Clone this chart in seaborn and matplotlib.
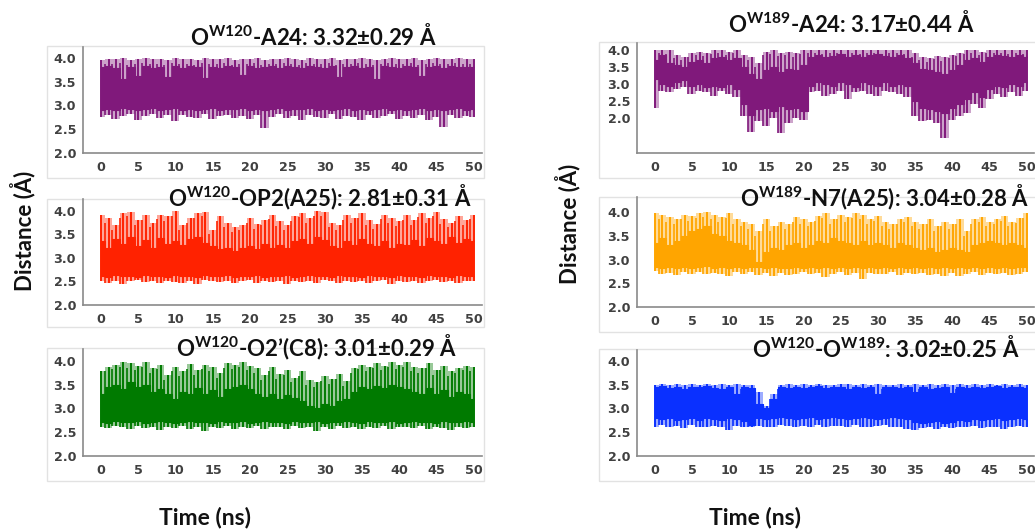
import numpy as np
import matplotlib
matplotlib.use("Agg")
import matplotlib.pyplot as plt
import matplotlib.patches as mpatches
import seaborn as sns

# time axis (ns), one sample of the read-off envelope per ns
time_ns = np.arange(0, 51)

# envelopes: spike peak, top of dense band, bottom of dense band, spike trough
w120_a24_peak = [3.95,3.98,3.97,3.99,3.96,3.98,3.99,3.97,3.98,3.96,3.99,3.97,3.98,3.95,3.99,3.98,3.97,3.99,3.96,3.98,3.97,3.99,3.95,3.98,3.97,3.99,3.98,3.96,3.99,3.97,3.98,3.99,3.96,3.98,3.97,3.99,3.98,3.96,3.97,3.99,3.98,3.97,3.99,3.96,3.98,3.99,3.97,3.98,3.99,3.97,3.98]
w120_a24_dip = [3.80,3.82,3.78,3.55,3.80,3.62,3.83,3.79,3.81,3.60,3.84,3.78,3.82,3.80,3.58,3.81,3.79,3.83,3.80,3.65,3.82,3.78,3.81,3.84,3.79,3.82,3.80,3.78,3.83,3.81,3.79,3.82,3.60,3.80,3.84,3.78,3.81,3.56,3.83,3.80,3.79,3.82,3.80,3.62,3.81,3.83,3.79,3.82,3.80,3.81,3.80]
w120_a24_floor = [2.90,2.93,2.91,2.94,2.92,2.90,2.93,2.95,2.91,2.92,2.94,2.90,2.93,2.91,2.92,2.95,2.90,2.93,2.92,2.94,2.91,2.93,2.90,2.92,2.94,2.91,2.93,2.92,2.95,2.90,2.93,2.91,2.92,2.94,2.90,2.93,2.91,2.92,2.94,2.90,2.93,2.91,2.92,2.95,2.90,2.93,2.91,2.92,2.94,2.91,2.93]
w120_a24_low = [2.75,2.80,2.72,2.78,2.82,2.70,2.77,2.81,2.74,2.79,2.68,2.80,2.76,2.73,2.82,2.71,2.78,2.80,2.74,2.77,2.72,2.79,2.52,2.75,2.81,2.73,2.78,2.70,2.80,2.76,2.74,2.82,2.71,2.78,2.75,2.69,2.80,2.73,2.77,2.81,2.72,2.78,2.74,2.79,2.70,2.76,2.54,2.80,2.73,2.78,2.75]

w120_op2_peak = [3.90,3.85,3.70,3.95,3.98,3.80,3.90,3.75,3.92,3.88,3.99,3.70,3.85,3.95,3.98,3.60,3.88,3.75,3.65,3.70,3.85,3.72,3.80,3.92,3.78,3.70,3.88,3.96,3.85,3.99,3.98,3.75,3.70,3.90,3.85,3.95,3.80,3.72,3.92,3.85,3.78,3.90,3.80,3.96,3.85,3.98,3.82,3.75,3.88,3.80,3.92]
w120_op2_dip = [3.35,3.20,3.40,3.30,3.45,3.25,3.38,3.22,3.42,3.30,3.35,3.28,3.40,3.45,3.32,3.25,3.18,3.22,3.15,3.20,3.25,3.18,3.30,3.22,3.28,3.20,3.35,3.40,3.30,3.45,3.38,3.25,3.20,3.35,3.28,3.40,3.30,3.25,3.35,3.22,3.30,3.28,3.38,3.25,3.42,3.35,3.30,3.45,3.32,3.40,3.35]
w120_op2_floor = [2.62,2.60,2.63,2.61,2.62,2.60,2.64,2.61,2.62,2.60,2.63,2.61,2.62,2.60,2.64,2.62,2.61,2.63,2.60,2.62,2.61,2.63,2.60,2.62,2.61,2.64,2.60,2.62,2.63,2.61,2.62,2.60,2.63,2.61,2.62,2.60,2.64,2.61,2.62,2.60,2.63,2.61,2.62,2.60,2.63,2.61,2.62,2.60,2.63,2.61,2.62]
w120_op2_low = [2.50,2.47,2.52,2.45,2.50,2.53,2.48,2.51,2.46,2.52,2.49,2.47,2.51,2.45,2.53,2.50,2.48,2.52,2.47,2.50,2.53,2.46,2.51,2.48,2.50,2.45,2.52,2.49,2.51,2.47,2.53,2.50,2.46,2.52,2.49,2.51,2.47,2.50,2.53,2.45,2.51,2.48,2.52,2.46,2.50,2.53,2.48,2.51,2.47,2.52,2.50]

w120_o2_peak = [3.78,3.88,3.92,3.98,3.95,3.90,3.97,3.85,3.92,3.70,3.88,3.78,3.93,3.80,3.92,3.88,3.75,3.95,3.92,3.98,3.90,3.85,3.70,3.88,3.72,3.80,3.65,3.78,3.60,3.55,3.68,3.62,3.72,3.58,3.85,3.92,3.88,3.95,3.90,3.98,3.92,3.97,3.88,3.85,3.95,3.80,3.90,3.78,3.85,3.90,3.88]
w120_o2_dip = [3.30,3.45,3.50,3.40,3.55,3.45,3.50,3.35,3.40,3.30,3.20,3.35,3.30,3.42,3.30,3.38,3.25,3.40,3.45,3.50,3.40,3.30,3.25,3.30,3.20,3.28,3.22,3.15,3.05,3.00,3.10,3.05,3.15,3.20,3.35,3.45,3.40,3.48,3.42,3.50,3.45,3.40,3.35,3.30,3.42,3.30,3.38,3.25,3.35,3.30,3.20]
w120_o2_floor = [2.72,2.70,2.73,2.71,2.72,2.74,2.70,2.72,2.73,2.71,2.70,2.72,2.74,2.71,2.72,2.70,2.73,2.72,2.71,2.74,2.70,2.72,2.73,2.71,2.72,2.70,2.74,2.72,2.71,2.73,2.70,2.72,2.71,2.74,2.72,2.70,2.73,2.71,2.72,2.74,2.70,2.72,2.73,2.71,2.72,2.70,2.74,2.72,2.71,2.73,2.72]
w120_o2_low = [2.62,2.58,2.64,2.60,2.56,2.63,2.59,2.61,2.55,2.62,2.58,2.64,2.57,2.60,2.53,2.62,2.58,2.63,2.56,2.61,2.59,2.64,2.57,2.60,2.62,2.56,2.63,2.58,2.61,2.52,2.60,2.57,2.63,2.59,2.62,2.56,2.61,2.58,2.64,2.57,2.60,2.62,2.58,2.63,2.56,2.61,2.59,2.55,2.62,2.58,2.61]

w189_a24_peak = [4.00,4.00,3.98,3.85,3.80,3.90,3.95,3.92,3.98,4.00,3.95,4.00,3.85,3.80,3.60,3.95,3.98,3.92,3.95,3.90,3.98,4.00,4.00,3.98,4.00,4.00,3.99,4.00,3.98,4.00,4.00,3.98,4.00,4.00,3.98,3.90,3.80,3.75,3.82,3.78,3.85,3.92,3.98,4.00,3.95,4.00,4.00,4.00,3.98,4.00,3.98]
w189_a24_dip = [3.70,3.85,3.60,3.55,3.50,3.65,3.70,3.60,3.75,3.80,3.70,3.75,3.50,3.30,3.15,3.40,3.50,3.35,3.45,3.40,3.55,3.80,3.85,3.80,3.82,3.88,3.80,3.85,3.78,3.85,3.88,3.82,3.80,3.85,3.75,3.60,3.45,3.40,3.35,3.30,3.40,3.55,3.70,3.75,3.65,3.80,3.85,3.82,3.80,3.85,3.80]
w189_a24_floor = [3.15,3.00,2.95,3.05,3.10,2.95,3.00,2.90,2.95,2.90,3.00,2.85,2.40,2.10,2.25,2.30,2.20,2.35,2.25,2.30,2.20,2.95,3.05,3.00,2.95,3.05,3.00,2.90,3.05,3.00,2.95,3.05,2.95,3.00,2.95,2.50,2.30,2.25,2.20,2.15,2.30,2.40,2.55,2.75,2.60,2.85,2.95,2.90,3.00,2.95,3.05]
w189_a24_low = [2.30,2.80,2.75,2.85,2.90,2.70,2.80,2.75,2.65,2.80,2.70,2.60,2.05,1.60,1.90,1.75,2.00,1.55,1.85,2.00,1.95,2.75,2.80,2.65,2.70,2.80,2.55,2.75,2.80,2.70,2.65,2.80,2.75,2.70,2.60,2.05,1.90,1.95,1.85,1.40,1.95,2.05,2.15,2.40,2.30,2.55,2.70,2.60,2.75,2.65,2.80]

w189_n7_peak = [3.98,3.95,3.90,3.85,3.95,3.92,3.98,4.00,3.95,3.90,3.98,3.85,3.80,3.75,3.60,3.85,3.70,3.80,3.75,3.90,3.85,3.80,3.92,3.98,3.85,3.95,3.90,3.98,3.95,3.85,3.92,3.80,3.75,3.85,3.90,3.80,3.75,3.85,3.70,3.80,3.75,3.85,3.60,3.85,3.90,3.80,3.85,3.92,3.80,3.88,3.98]
w189_n7_dip = [3.35,3.45,3.30,3.40,3.50,3.60,3.65,3.70,3.55,3.50,3.40,3.35,3.30,3.20,2.95,3.15,3.25,3.20,3.30,3.35,3.25,3.30,3.40,3.35,3.45,3.40,3.35,3.30,3.40,3.30,3.35,3.30,3.25,3.35,3.30,3.25,3.20,3.25,3.15,3.20,3.25,3.20,3.15,3.30,3.35,3.40,3.35,3.30,3.35,3.30,3.25]
w189_n7_floor = [2.85,2.82,2.84,2.83,2.85,2.82,2.84,2.86,2.83,2.85,2.82,2.84,2.83,2.85,2.85,2.82,2.84,2.83,2.82,2.84,2.83,2.85,2.82,2.84,2.83,2.85,2.82,2.84,2.83,2.85,2.82,2.84,2.83,2.85,2.82,2.84,2.83,2.85,2.82,2.84,2.83,2.85,2.82,2.84,2.83,2.85,2.82,2.84,2.83,2.85,2.84]
w189_n7_low = [2.75,2.70,2.72,2.68,2.73,2.70,2.74,2.69,2.72,2.70,2.66,2.73,2.70,2.74,2.68,2.71,2.66,2.72,2.68,2.70,2.74,2.69,2.72,2.63,2.70,2.73,2.68,2.71,2.60,2.72,2.69,2.70,2.73,2.67,2.71,2.69,2.72,2.68,2.70,2.66,2.72,2.65,2.70,2.73,2.68,2.71,2.69,2.72,2.67,2.70,2.73]

w120_w189_peak = [3.50,3.52,3.50,3.51,3.50,3.52,3.49,3.51,3.50,3.52,3.50,3.51,3.50,3.49,3.35,3.05,3.30,3.50,3.51,3.50,3.52,3.50,3.51,3.49,3.50,3.52,3.51,3.50,3.52,3.50,3.51,3.50,3.49,3.52,3.50,3.51,3.50,3.52,3.50,3.51,3.50,3.52,3.49,3.51,3.50,3.52,3.50,3.51,3.50,3.52,3.50]
w120_w189_dip = [3.45,3.47,3.44,3.46,3.40,3.46,3.45,3.47,3.44,3.42,3.45,3.30,3.46,3.44,3.10,3.00,3.20,3.45,3.44,3.46,3.43,3.45,3.47,3.44,3.46,3.45,3.42,3.46,3.44,3.45,3.30,3.46,3.45,3.44,3.46,3.35,3.45,3.40,3.44,3.46,3.32,3.45,3.44,3.46,3.43,3.45,3.47,3.44,3.46,3.45,3.44]
w120_w189_floor = [2.80,2.78,2.80,2.75,2.78,2.80,2.76,2.80,2.78,2.76,2.80,2.78,2.74,2.65,2.80,2.78,2.80,2.82,2.80,2.78,2.80,2.82,2.78,2.80,2.82,2.80,2.78,2.80,2.82,2.80,2.78,2.80,2.82,2.80,2.78,2.72,2.70,2.72,2.74,2.70,2.72,2.75,2.74,2.78,2.76,2.78,2.80,2.76,2.78,2.80,2.78]
w120_w189_low = [2.62,2.65,2.60,2.63,2.58,2.65,2.62,2.60,2.64,2.61,2.55,2.63,2.60,2.62,2.64,2.60,2.62,2.66,2.63,2.60,2.64,2.62,2.65,2.60,2.63,2.64,2.61,2.65,2.62,2.60,2.63,2.65,2.60,2.62,2.56,2.55,2.58,2.60,2.57,2.60,2.58,2.62,2.60,2.63,2.59,2.62,2.60,2.56,2.62,2.64,2.61]

titles = [
    r"O$^{\mathbf{W120}}$-A24: 3.32±0.29 Å",
    r"O$^{\mathbf{W120}}$-OP2(A25): 2.81±0.31 Å",
    r"O$^{\mathbf{W120}}$-O2’(C8): 3.01±0.29 Å",
    r"O$^{\mathbf{W189}}$-A24: 3.17±0.44 Å",
    r"O$^{\mathbf{W189}}$-N7(A25): 3.04±0.28 Å",
    r"O$^{\mathbf{W120}}$-O$^{\mathbf{W189}}$: 3.02±0.25 Å",
]

sns.set_style("white")
plt.rcParams["font.family"] = ["Lato", "DejaVu Sans"]
plt.rcParams["mathtext.fontset"] = "custom"
plt.rcParams["mathtext.rm"] = "Lato"
plt.rcParams["mathtext.bf"] = "Lato:bold"

W, H = 1035, 531
fig = plt.figure(figsize=(W / 100, H / 100), dpi=100)


def fx(x):
    return x / W


def fy(y):
    return 1 - y / H


# panel layout in pixels: axes (left, top, right, bottom), frame box, ylim, title centre/baseline
panels = [
    dict(ax=(83, 47, 482, 153), box=(47, 46, 484, 178), ylim=(2.0, 4.23), xmax=51.07, tx=313, ty=45,
         data=(w120_a24_peak, w120_a24_dip, w120_a24_floor, w120_a24_low), color="#80197B"),
    dict(ax=(83, 199, 482, 305), box=(47, 199, 484, 327), ylim=(2.0, 4.25), xmax=51.07, tx=320, ty=206,
         data=(w120_op2_peak, w120_op2_dip, w120_op2_floor, w120_op2_low), color="#FF2200"),
    dict(ax=(83, 349, 482, 456), box=(47, 348, 484, 481), ylim=(2.0, 4.25), xmax=51.07, tx=317, ty=356,
         data=(w120_o2_peak, w120_o2_dip, w120_o2_floor, w120_o2_low), color="#007A00"),
    dict(ax=(637, 43, 1034, 153), box=(599, 42, 1040, 178), ylim=(0.97, 4.2), xmax=50.94, tx=851, ty=32,
         data=(w189_a24_peak, w189_a24_dip, w189_a24_floor, w189_a24_low), color="#80197B"),
    dict(ax=(637, 197, 1034, 307), box=(599, 197, 1040, 332), ylim=(2.0, 4.32), xmax=50.94, tx=885, ty=206,
         data=(w189_n7_peak, w189_n7_dip, w189_n7_floor, w189_n7_low), color="#FFA500"),
    dict(ax=(637, 350, 1034, 456), box=(599, 349, 1040, 481), ylim=(2.0, 4.23), xmax=50.94, tx=886, ty=357,
         data=(w120_w189_peak, w120_w189_dip, w120_w189_floor, w120_w189_low), color="#0A30FF"),
]

for p, title in zip(panels, titles):
    bl, bt, br, bb = p["box"]
    fig.add_artist(mpatches.Rectangle((fx(bl), fy(bb)), fx(br - bl), (bb - bt) / H,
                                      transform=fig.transFigure, fill=False,
                                      edgecolor="#e2e2e2", lw=1.0, zorder=0))
    l, t, r, b = p["ax"]
    ax = fig.add_axes([fx(l), fy(b), fx(r - l), (b - t) / H])
    ax.patch.set_alpha(0)

    peak, dip, floor, low = p["data"]
    c = p["color"]
    # dense band as steps, spikes as thin vertical strokes over a light tint
    ax.fill_between(time_ns, floor, dip, step="mid", color=c, lw=0)
    ax.fill_between(time_ns, dip, peak, step="mid", color=c, alpha=0.4, lw=0)
    ax.fill_between(time_ns, low, floor, step="mid", color=c, alpha=0.4, lw=0)
    ax.vlines(time_ns, low, peak, color=c, lw=1.4)
    ax.vlines(time_ns[:-1] + 0.5, np.minimum(low[1:], floor[:-1]),
              np.maximum(dip[:-1], peak[1:]) - 0.1, color=c, lw=1.2)
    sns.lineplot(x=time_ns, y=dip, color=c, lw=0.8, drawstyle="steps-mid", ax=ax)
    sns.lineplot(x=time_ns, y=floor, color=c, lw=0.8, drawstyle="steps-mid", ax=ax)

    ax.set_xlim(-2.42, p["xmax"])
    ax.set_ylim(*p["ylim"])
    ax.set_xticks(range(0, 51, 5))
    ax.set_yticks([2.0, 2.5, 3.0, 3.5, 4.0])
    ax.set_yticklabels([f"{v:.1f}" for v in [2.0, 2.5, 3.0, 3.5, 4.0]])
    for s in ["top", "right"]:
        ax.spines[s].set_visible(False)
    for s in ["left", "bottom"]:
        ax.spines[s].set_color("#8a8a8a")
        ax.spines[s].set_linewidth(1.2)
    ax.tick_params(axis="both", length=0, labelsize=9.2, labelcolor="#404040")
    ax.tick_params(axis="y", pad=5)
    ax.tick_params(axis="x", pad=6)
    for lab in ax.get_xticklabels() + ax.get_yticklabels():
        lab.set_fontweight("bold")
        lab.set_family("DejaVu Sans")
    ax.set_xlabel("")
    ax.set_ylabel("")

    fig.text(fx(p["tx"]), fy(p["ty"]), title, ha="center", va="baseline",
             fontsize=16, fontweight="bold", color="#111111")

for x_lab, y_lab, x_time in [(23, 231, 205), (568, 224, 755)]:
    fig.text(fx(x_lab), fy(y_lab), "Distance (Å)", rotation=90, ha="center", va="center",
             fontsize=16, fontweight="bold", color="#111111")
    fig.text(fx(x_time), fy(517), "Time (ns)", ha="center", va="center",
             fontsize=16.5, fontweight="bold", color="#111111")

fig.savefig("out.png", dpi=100)
